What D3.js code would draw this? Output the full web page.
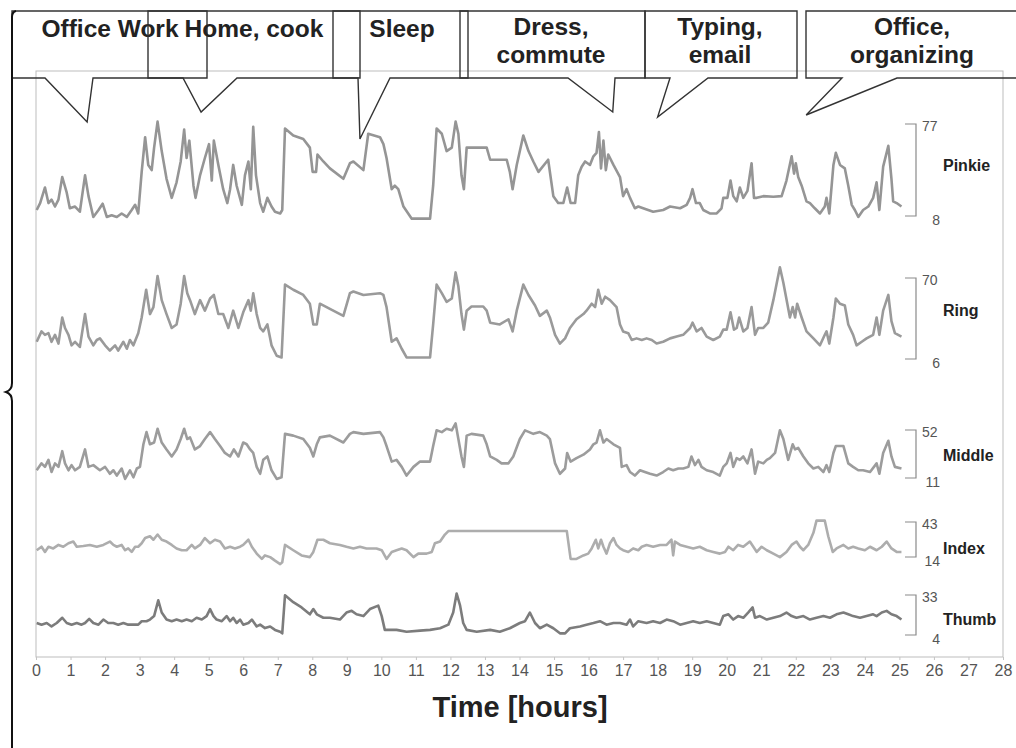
<!DOCTYPE html>
<html><head><meta charset="utf-8">
<script src="https://cdn.jsdelivr.net/npm/d3@7"></script>
<style>body{margin:0;background:#fff;} svg{display:block;}</style>
</head><body><svg id="c" width="1016" height="748"></svg>
<script>
// ---------------- DATA ----------------
const hourTicks = d3.range(0, 29);
const fingers = ["Pinkie", "Ring", "Middle", "Index", "Thumb"];
const rangeMax = [77, 70, 52, 43, 33];
const rangeMin = [8, 6, 11, 14, 4];
const activities = ["Office Work", "Home, cook", "Sleep", "Dress,\ncommute", "Typing,\nemail", "Office,\norganizing"];
const activityHour = [1.48, 4.78, 9.38, 16.7, 18.0, 22.3];

const pinkieT = [0.02,0.12,0.26,0.36,0.45,0.55,0.65,0.76,0.89,0.98,1.13,1.27,1.42,1.52,1.66,1.81,1.93,2.05,2.19,2.34,2.48,2.63,2.77,2.87,2.96,3.06,3.16,3.25,3.35,3.42,3.52,3.64,3.78,3.93,4.07,4.19,4.29,4.36,4.44,4.56,4.62,4.75,4.89,5.01,5.09,5.15,5.28,5.42,5.54,5.62,5.71,5.81,5.96,6.05,6.15,6.22,6.29,6.37,6.49,6.58,6.70,6.82,6.92,7.07,7.13,7.21,7.45,7.74,7.93,8.01,8.11,8.15,8.32,8.51,
8.90,9.09,9.19,9.48,9.62,9.96,10.06,10.15,10.30,10.39,10.49,10.64,10.88,11.41,11.50,11.60,11.75,11.89,12.04,12.15,12.23,12.32,12.39,12.47,13.05,13.15,13.63,13.72,13.80,13.92,14.11,14.26,14.40,14.55,14.83,14.98,15.12,15.27,15.38,15.48,15.61,15.70,15.80,15.90,16.04,16.14,16.23,16.30,16.36,16.43,16.50,16.57,16.72,16.91,
17.00,17.10,17.20,17.34,17.44,17.58,17.87,18.16,18.36,18.65,18.84,18.94,19.01,19.11,19.22,19.32,19.51,19.71,19.85,19.90,20.02,20.11,20.19,20.29,20.38,20.48,20.60,20.72,20.79,20.87,21.06,21.35,21.59,21.73,21.88,21.95,22.00,22.07,22.17,22.31,22.41,22.55,22.70,22.84,22.89,22.97,23.09,23.16,23.28,23.42,23.52,23.62,23.71,23.81,23.95,24.10,24.24,24.34,24.42,24.53,24.68,24.77,24.82,24.92,25.06];
const pinkieV = [12.5,17.7,29.4,17.7,20.3,15.1,20.3,37.2,25.5,13.8,15.1,11.2,38.5,22.9,7.3,12.5,17.2,7.3,8.6,7.3,9.9,7.3,12.5,16.4,9.9,41.1,67.1,46.3,42.4,59.3,78.8,56.7,35.9,21.6,33.3,48.9,72.8,51.5,64.5,30.7,21.6,38.5,51.5,61.9,34.6,64.5,46.3,28.1,17.7,28.1,46.3,30.7,16.4,38.5,48.9,28.1,74.9,38.5,17.7,11.2,21.6,15.1,11.2,9.9,12.5,73.6,68.4,65.8,59.3,41.1,41.1,54.1,48.9,43.7,
35.9,47.6,48.9,42.4,69.7,67.1,61.9,51.5,28.1,30.7,28.1,15.1,6.0,6.0,30.7,73.6,69.7,56.7,59.3,78.8,69.7,38.5,28.1,59.3,59.3,50.2,50.2,41.1,28.1,46.3,68.4,56.7,48.9,41.1,50.2,22.9,17.7,17.7,29.4,17.7,17.7,38.5,45.0,48.9,46.3,52.8,55.4,71.0,43.7,64.5,42.4,54.1,46.3,37.2,
22.9,28.1,21.6,13.8,15.1,13.8,11.2,12.5,15.1,13.8,16.4,21.6,28.1,17.7,17.7,12.5,9.9,9.9,13.8,21.6,21.6,34.6,22.9,19.0,29.4,21.6,26.8,47.6,21.6,21.6,22.9,22.4,22.9,34.6,52.8,39.8,47.6,37.2,30.7,19.0,17.7,13.8,9.9,15.1,21.6,9.9,46.3,55.4,46.3,43.7,30.7,16.4,12.5,7.3,12.5,15.1,21.6,33.3,12.5,45.0,60.6,35.9,19.0,17.7,15.1];

const ringT = [0.02,0.16,0.26,0.36,0.45,0.55,0.65,0.76,0.84,0.94,1.03,1.13,1.27,1.42,1.52,1.66,1.76,1.85,2.00,2.14,2.29,2.38,2.53,2.63,2.72,2.82,2.96,3.06,3.19,3.30,3.40,3.52,3.64,3.78,3.93,4.07,4.19,4.29,4.38,4.46,4.60,4.75,4.89,5.04,5.15,5.28,5.42,5.57,5.71,5.86,6.00,6.15,6.22,6.29,6.39,6.49,6.58,6.70,6.82,6.97,7.11,7.21,7.45,7.74,7.93,8.03,8.13,8.22,8.51,
8.90,9.09,9.19,9.48,9.96,10.06,10.15,10.30,10.44,10.59,10.73,11.41,11.50,11.60,11.75,11.89,12.04,12.15,12.23,12.32,12.39,12.47,12.61,12.95,13.05,13.15,13.43,13.68,13.80,13.92,14.11,14.26,14.45,14.59,14.79,14.88,15.03,15.17,15.32,15.46,15.65,15.85,15.94,16.09,16.19,16.28,16.38,16.48,16.62,16.81,16.91,
17.00,17.15,17.25,17.39,17.54,17.68,17.83,17.97,18.16,18.36,18.55,18.74,18.94,19.01,19.13,19.27,19.42,19.61,19.80,19.90,20.00,20.11,20.21,20.29,20.36,20.48,20.60,20.72,20.82,20.91,21.06,21.20,21.35,21.54,21.64,21.83,21.91,21.98,22.04,22.17,22.31,22.51,22.70,22.84,22.89,22.97,23.09,23.16,23.28,23.42,23.52,23.66,23.76,23.91,24.05,24.24,24.34,24.42,24.53,24.68,24.77,24.87,25.06];
const ringV = [19.6,27.8,25.1,26.4,19.6,25.1,18.2,38.8,30.5,25.1,16.8,19.6,15.5,41.5,23.7,16.8,21,22.3,16.8,12.7,16.8,12.7,19.6,14.1,21,16.8,26.4,38.8,60.7,41.5,47,71.6,52.5,41.5,30.5,33.3,49.7,71.6,57.9,52.5,41.5,52.5,44.2,53.8,56.6,41.5,41.5,30.5,44.2,30.5,42.9,52.5,44.2,57.9,41.5,30.5,27.8,33.3,16.8,8.6,7.2,64.8,60.7,56.6,49.7,33.3,33.3,49.7,45.6,
40.1,58,59.3,56.6,58,56.6,47,19.6,22.3,14.1,7.2,7.2,33.3,64.8,58,51.1,53.8,74.4,63.4,41.5,29.2,44.2,47.5,47.5,44.2,34.7,33.3,37.4,27.8,44.2,64.8,56.6,48.3,40.1,44.2,38.8,25.1,18.2,22.3,30.5,37.4,41.5,44.2,49.7,47,60.7,49.7,55.2,52.5,47,33.3,
27.8,26.4,21,22.3,21,22.3,21,18.2,19.6,22.3,23.7,25.1,30.5,34.7,27.8,30.5,23.7,21,23.7,29.2,29.2,42.9,29.2,30.5,38.8,27.8,30.5,47,25.1,30.5,30.5,34.7,52.5,78.5,66.2,38.8,47,38.8,49.7,38.8,27.8,22.3,16.8,25.1,27.8,18.2,38.8,53.8,49.7,48.3,33.3,25.1,16.8,19.6,22.3,25.1,38.8,25.1,44.2,56.6,36,26.4,23.7];

const middleT = [0.02,0.16,0.26,0.36,0.45,0.55,0.65,0.76,0.84,0.94,1.03,1.13,1.27,1.42,1.52,1.66,1.85,2.00,2.14,2.24,2.34,2.48,2.58,2.72,2.82,2.92,3.01,3.11,3.20,3.30,3.42,3.52,3.64,3.78,3.93,4.07,4.19,4.29,4.38,4.46,4.60,4.75,4.89,5.04,5.18,5.33,5.47,5.62,5.73,5.86,6.00,6.10,6.20,6.29,6.39,6.49,6.58,6.70,6.82,6.97,7.11,7.21,7.45,7.74,7.93,8.03,8.13,8.22,8.51,
8.90,9.09,9.19,9.48,9.96,10.06,10.15,10.30,10.44,10.59,10.73,10.93,11.12,11.41,11.50,11.60,11.75,11.89,12.04,12.15,12.23,12.32,12.39,12.47,12.61,12.95,13.05,13.15,13.34,13.48,13.68,13.82,14.01,14.16,14.40,14.59,14.79,14.88,15.03,15.17,15.32,15.38,15.48,15.65,15.85,16.04,16.14,16.23,16.33,16.43,16.52,16.72,16.91,
16.96,17.10,17.20,17.34,17.49,17.63,17.78,17.97,18.16,18.31,18.45,18.60,18.74,18.89,18.98,19.08,19.18,19.27,19.42,19.61,19.80,19.90,20.00,20.11,20.19,20.29,20.38,20.48,20.60,20.72,20.82,20.91,21.06,21.16,21.25,21.40,21.54,21.64,21.78,21.91,21.98,22.07,22.22,22.36,22.51,22.65,22.80,22.89,22.97,23.09,23.16,23.38,23.52,23.66,23.81,23.95,24.15,24.34,24.42,24.53,24.68,24.77,24.87,25.06];
const middleV = [17.6,23.5,20.5,26.5,16.1,23.5,20.5,33.9,23.5,17.6,22,17.6,20.5,35.4,20.5,22,17.6,20.5,14.6,17.6,13.1,19.1,10.2,17.6,11.6,19.1,20.5,39.8,50.2,39.8,41.3,53.1,41.3,35.4,29.4,35.4,44.3,53.1,44.3,45.7,35.4,38.3,44.3,50.2,44.3,38.3,32.4,29.4,35.4,29.4,41.3,39.8,35.4,32.4,20.5,14.6,26.5,29.4,17.6,10.2,11.6,48.7,47.2,44.3,36.8,29.4,39.8,45.7,47.2,
41.3,48.7,50.2,48.7,50.2,45.7,38.3,25,26.5,20.5,13.1,20.5,25,25,38.3,51.7,50.2,53.1,51.7,57.6,44.3,29.4,20.5,47.2,48.7,47.2,39.8,29.4,26.5,23.5,23.5,29.4,44.3,51.7,48.7,50.2,47.2,44.3,23.5,14.6,19.1,32.4,25,28,30.9,35.4,39.8,41.3,51.7,41.3,44.3,39.8,36.8,
20.5,22,16.1,13.1,17.6,16.1,14.6,13.1,16.1,19.1,17.6,19.1,19.1,20.5,29.4,22,26.5,20.5,17.6,16.1,13.1,20.5,23.5,32.4,20.5,28,26.5,29.4,23.5,35.4,14.6,25,23.5,26.5,28,32.4,51.7,44.3,26.5,39.8,35.4,36.8,29.4,23.5,19.1,20.5,16.1,22,16.1,32.4,38.3,38.3,23.5,20.5,17.6,17.6,16.1,23.5,14.6,32.4,42.8,29.4,20.5,19.1];

const indexT = [0.02,0.16,0.26,0.36,0.50,0.65,0.79,0.94,1.08,1.18,1.37,1.56,1.76,1.95,2.14,2.24,2.34,2.48,2.58,2.67,2.77,2.87,2.96,3.06,3.16,3.30,3.40,3.52,3.64,3.78,3.93,4.07,4.22,4.36,4.51,4.60,4.75,4.89,5.04,5.18,5.33,5.47,5.62,5.76,5.91,6.00,6.15,6.25,6.39,6.54,6.63,6.78,6.92,7.07,7.13,7.21,7.45,7.69,7.93,8.03,8.15,8.32,8.51,
8.80,8.99,9.19,9.38,9.57,9.86,10.01,10.15,10.30,10.44,10.59,10.73,10.93,11.07,11.31,11.46,11.55,11.70,11.84,11.94,15.37,15.48,15.65,15.85,15.99,16.09,16.21,16.28,16.36,16.43,16.52,16.62,16.72,16.81,16.91,
17.00,17.15,17.29,17.44,17.54,17.68,17.87,18.07,18.26,18.40,18.45,18.50,18.65,18.84,19.03,19.22,19.42,19.61,19.80,19.95,20.05,20.19,20.33,20.48,20.67,20.77,20.87,21.01,21.16,21.35,21.54,21.73,21.88,22.02,22.12,22.22,22.36,22.51,22.60,22.84,22.94,23.07,23.18,23.38,23.52,23.66,23.81,24.00,24.15,24.34,24.49,24.63,24.77,24.92,25.06];
const indexV = [19.6,22.5,18.2,22.5,21.1,24,22.5,25.4,26.8,22.5,23.1,24,22.5,24,26.8,24,22.5,24,19.6,21.1,18.2,22.5,22.5,25.4,29.7,31.2,28.3,32.6,28.3,26.8,24,21.1,19.6,19.6,24,21.1,24,29.7,25.4,28.3,26.8,21.1,22.5,21.1,22.5,24,28.3,22.5,16.8,12.4,15.3,13.9,11,8.1,9.6,24,19.6,15.3,13.9,18.2,28.3,28.3,25.4,
24,22.5,21.1,22.5,21.1,21.1,19.6,12.4,18.2,19.6,21.1,19.6,13.9,16.8,16.8,18.2,25.4,26.8,32.6,35.5,35.5,12.4,12.4,15.3,16.8,21.1,28.3,21.1,28.3,22.5,16.8,25.4,29.7,24,21.1,
19.6,18.2,21.1,19.6,22.5,24,22.5,24,24,28.3,15.3,26.8,24,22.5,21.1,22.5,19.6,18.2,16.8,18.2,22.5,19.6,24,22.5,26.8,22.5,18.2,22.5,19.6,16.8,13.9,18.2,24,26.8,22.5,19.6,24,34,44.1,44.1,31.2,18.2,21.1,24,21.1,22.5,21.1,19.6,22.5,19.6,22.5,26.8,21.1,18.2,18.2];

const thumbT = [0.02,0.16,0.31,0.45,0.60,0.76,0.89,1.03,1.18,1.32,1.42,1.54,1.66,1.81,1.95,2.09,2.24,2.38,2.53,2.67,2.82,2.96,3.06,3.20,3.30,3.42,3.54,3.64,3.78,3.93,4.07,4.22,4.36,4.51,4.65,4.80,4.94,5.04,5.14,5.23,5.38,5.52,5.62,5.71,5.81,5.91,6.00,6.15,6.25,6.39,6.49,6.63,6.78,6.92,7.07,7.13,7.21,7.45,7.69,7.93,8.03,8.13,8.32,8.51,
8.80,8.99,9.14,9.28,9.48,9.67,9.91,10.01,10.10,10.44,10.73,11.12,11.41,11.70,11.94,12.08,12.18,12.28,12.37,12.47,12.76,13.15,13.43,13.72,14.01,14.16,14.30,14.45,14.59,14.79,14.98,15.17,15.32,15.46,15.75,15.94,16.14,16.33,16.52,16.72,16.91,
17.10,17.20,17.29,17.44,17.68,17.87,18.07,18.26,18.45,18.65,18.84,19.03,19.22,19.42,19.61,19.80,19.90,20.05,20.19,20.33,20.48,20.62,20.75,20.82,20.96,21.16,21.35,21.54,21.73,21.88,22.02,22.22,22.41,22.60,22.80,22.99,23.18,23.38,23.52,23.66,23.86,24.05,24.24,24.34,24.49,24.63,24.77,24.92,25.06];
const thumbV = [12.7,11.5,12.7,10.2,12.7,16.5,12.7,11.5,12.7,11.5,12.7,15.7,12.7,11.5,15.2,12.7,12.7,11.5,12.7,11.5,11.5,11.5,14,14,15.2,17.7,29.1,20.3,15.2,14,15.2,14,15.2,14,16.5,15.2,17.7,22.8,17.7,15.2,14,17.7,14,16.5,12.7,15.2,11.5,12.7,15.2,10.2,11.5,9,10.2,7.7,6.4,5.2,32.8,27.8,24,19,22.8,19,16.5,16.5,
15.2,20.3,21.5,19,17.7,22.8,25.3,17.7,7.7,7.7,6.4,7.2,7.7,8.9,11.5,20.3,34.1,25.3,12.7,7.7,6.4,7.7,6.4,8.9,12.7,14,20.3,12.7,8.9,11.5,8.9,5.2,5.2,8.9,10.2,11.5,12.7,14,11.5,12.7,12.7,
11.5,15.2,10.2,14,12.7,14,12.7,15.2,14,11.5,12.7,14,12.7,14,12.7,11.5,17.7,19,15.2,17.7,16.5,20.3,24,16.5,17.7,15.2,16.5,17.7,20.3,17.7,16.5,17.7,15.2,16.5,17.7,16.5,19,20.3,19,17.7,16.5,17.7,19,17.7,20.3,21.5,19,17.7,15.2];

const seriesT = [pinkieT, ringT, middleT, indexT, thumbT];
const seriesV = [pinkieV, ringV, middleV, indexV, thumbV];

// ---------------- LAYOUT ----------------
const FONT = "'Liberation Sans', Arial, Helvetica, sans-serif";
const plot = {l: 36, r: 1003, t: 71, b: 657};
const bandPx = [[124, 216], [278, 359], [430, 478], [522, 557], [595, 635]];
const lineColors = ["#959595", "#9a9a9a", "#9c9c9c", "#adadad", "#7c7c7c"];
const labelY = [165, 310, 455, 548, 619];
const boxX = [[12, 207], [148, 360], [333, 468], [460, 645], [645, 797], [806, 1030]];
const tailBase = [[45, 93], [183, 237], [358, 390], [568, 615], [670, 708], [842, 897]];
const tipY = [122, 112, 139, 112, 117, 115];
const textCx = [110, 254, 402, 551, 720, 912];
const boxTop = 11, boxBot = 78;

const svg = d3.select("#c");
svg.append("rect").attr("width", 1016).attr("height", 748).attr("fill", "#fff");

const x = d3.scaleLinear().domain([0, 28]).range([plot.l, plot.r]);

// plot frame
svg.append("rect").attr("x", plot.l).attr("y", plot.t)
  .attr("width", plot.r - plot.l).attr("height", plot.b - plot.t)
  .attr("fill", "none").attr("stroke", "#bdbdbd").attr("stroke-width", 1);

// x axis
const xAxis = d3.axisBottom(x).tickValues(hourTicks).tickSize(3).tickPadding(5).tickFormat(d3.format("d"));
const gx = svg.append("g").attr("transform", `translate(0,${plot.b})`).call(xAxis);
gx.select(".domain").remove();
gx.selectAll(".tick line").attr("stroke", "#c4c4c4");
gx.selectAll(".tick text").attr("fill", "#555").attr("font-size", 16).attr("font-family", FONT);

svg.append("text").attr("x", 520).attr("y", 717).attr("text-anchor", "middle")
  .attr("font-family", FONT).attr("font-weight", "bold").attr("font-size", 29).attr("fill", "#222")
  .text("Time [hours]");

// series
fingers.forEach((name, i) => {
  const y = d3.scaleLinear().domain([rangeMin[i], rangeMax[i]]).range([bandPx[i][1], bandPx[i][0]]);
  const pts = d3.zip(seriesT[i], seriesV[i]);
  const line = d3.line().x(d => x(d[0])).y(d => y(d[1]));
  svg.append("path").datum(pts).attr("d", line)
    .attr("fill", "none").attr("stroke", lineColors[i]).attr("stroke-width", 2.6)
    .attr("stroke-linejoin", "round");

  // bracket
  const bx = 916, y0 = y(rangeMax[i]), y1 = y(rangeMin[i]);
  svg.append("path").attr("d", `M${bx - 11},${y0}H${bx}V${y1}H${bx - 11}`)
    .attr("fill", "none").attr("stroke", "#8a8a8a").attr("stroke-width", 1.2);
  svg.append("text").attr("x", bx + 6).attr("y", y0 + 2).attr("dy", "0.35em")
    .attr("font-family", FONT).attr("font-size", 14).attr("fill", "#555").text(rangeMax[i]);
  svg.append("text").attr("x", bx + 24).attr("y", y1 + 4).attr("dy", "0.35em").attr("text-anchor", "end")
    .attr("font-family", FONT).attr("font-size", 14).attr("fill", "#555").text(rangeMin[i]);
  svg.append("text").attr("x", 943).attr("y", labelY[i]).attr("dy", "0.35em")
    .attr("font-family", FONT).attr("font-weight", "bold").attr("font-size", 16).attr("fill", "#222").text(name);
});

// callouts
activities.forEach((label, i) => {
  const [l, r] = boxX[i];
  const [b0, b1] = tailBase[i];
  const tipX = x(activityHour[i]);
  svg.append("path")
    .attr("d", `M${l},${boxTop}H${r}V${boxBot}H${b1}L${tipX},${tipY[i]}L${b0},${boxBot}H${l}Z`)
    .attr("fill", "none").attr("stroke", "#333").attr("stroke-width", 1.4).attr("stroke-linejoin", "miter");
  const lines = label.split("\n");
  const t = svg.append("text").attr("text-anchor", "middle")
    .attr("font-family", FONT).attr("font-weight", "bold").attr("font-size", 24.5).attr("fill", "#222");
  if (lines.length === 1) {
    t.append("tspan").attr("x", textCx[i]).attr("y", 37).text(lines[0]);
  } else {
    lines.forEach((s, k) => t.append("tspan").attr("x", textCx[i]).attr("y", 35 + k * 28).text(s));
  }
});

// big left brace
svg.append("path")
  .attr("d", "M16,11 Q12,12 12,17 V383 Q12,390 6,392 Q12,394 12,401 V748")
  .attr("fill", "none").attr("stroke", "#111").attr("stroke-width", 2);
</script></body></html>
